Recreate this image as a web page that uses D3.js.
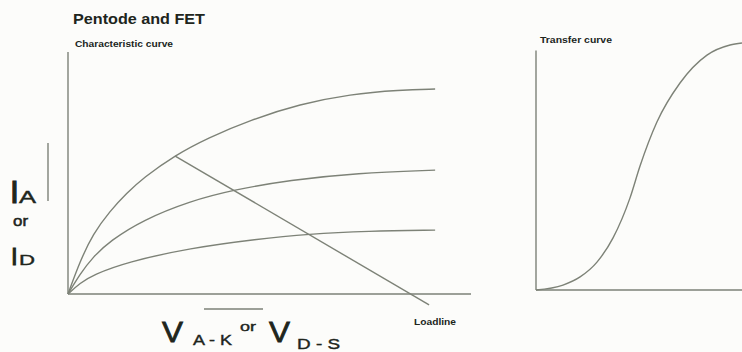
<!DOCTYPE html>
<html>
<head>
<meta charset="utf-8">
<script src="https://cdn.jsdelivr.net/npm/d3@7"></script>
<style>
  body { margin: 0; background: #fcfcfa; }
  svg { display: block; font-family: "Liberation Sans", Arial, sans-serif; }
</style>
</head>
<body>
<svg id="canvas"></svg>
<script>
"use strict";

// characteristic curves (anode / drain voltage vs current), 0..100 units
const topX = [0, 3.0, 6.2, 10.4, 14.6, 18.6, 26.6, 34.7, 45.2, 57.6, 70.0, 82.4, 91.1];
const topY = [0, 13.6, 24.8, 34.3, 41.7, 47.9, 57.4, 64.5, 71.9, 78.5, 82.6, 84.3, 84.7];
const midX = [0, 3.0, 6.2, 10.4, 18.6, 30.3, 40.9, 55.1, 71.7, 91.1];
const midY = [0, 8.3, 15.3, 21.9, 30.6, 38.4, 43.0, 47.1, 50.0, 51.2];
const lowX = [0, 3.0, 6.2, 14.6, 30.3, 46.9, 59.6, 74.4, 91.1];
const lowY = [0, 4.5, 7.9, 13.2, 19.0, 22.7, 24.8, 26.0, 26.4];
const loadX = [26.6, 89.6];
const loadY = [57.0, -4.5];

// transfer curve
const trX = [0, 13.1, 21.4, 29.6, 37.4, 45.6, 50.5, 58.7, 69.9, 83.0, 94.2, 100];
const trY = [0, 2.0, 5.3, 11.3, 21.1, 37.2, 50.2, 68.0, 83.8, 95.1, 99.2, 100];

const width = 742;
const height = 352;
const lineColor = "#7d8277";
const textColor = "#20251c";

const canvas = d3.select("#canvas").attr("width", width).attr("height", height);

const xScale = d3.scaleLinear().domain([0, 100]).range([68, 471]);
const yScale = d3.scaleLinear().domain([0, 100]).range([294, 52]);
const xTr = d3.scaleLinear().domain([0, 100]).range([536, 742]);
const yTr = d3.scaleLinear().domain([0, 100]).range([290, 43]);

const zip = (xs, ys) => xs.map((x, i) => [x, ys[i]]);

const drawLine = (pts, xs, ys, curve) => {
  const line = d3.line().x((d) => xs(d[0])).y((d) => ys(d[1])).curve(curve);
  canvas.append("path")
    .attr("d", line(pts))
    .attr("fill", "none")
    .attr("stroke", lineColor)
    .attr("stroke-width", 1.4);
};

// axes as plain lines (no ticks in the original)
drawLine([[0, 0], [0, 100]], xScale, yScale, d3.curveLinear);
drawLine([[0, 0], [100, 0]], xScale, yScale, d3.curveLinear);
drawLine([[0, 0], [0, 97]], xTr, yTr, d3.curveLinear);
drawLine([[0, 0], [100, 0]], xTr, yTr, d3.curveLinear);

drawLine(zip(topX, topY), xScale, yScale, d3.curveBasis);
drawLine(zip(midX, midY), xScale, yScale, d3.curveBasis);
drawLine(zip(lowX, lowY), xScale, yScale, d3.curveBasis);
drawLine(zip(loadX, loadY), xScale, yScale, d3.curveLinear);
drawLine(zip(trX, trY), xTr, yTr, d3.curveMonotoneX);

const addText = (txt, x, y, size, weight, len) => {
  const t = canvas.append("text")
    .attr("x", x).attr("y", y)
    .attr("font-size", size)
    .attr("font-weight", weight)
    .attr("fill", textColor)
    .text(txt);
  if (len) t.attr("textLength", len).attr("lengthAdjust", "spacingAndGlyphs");
  return t;
};

addText("Pentode and FET", 73, 24, 14, "bold", 132);
addText("Characteristic curve", 75, 47, 9, "bold", 98);
addText("Transfer curve", 540, 43, 9, "bold", 72);
addText("Loadline", 414, 325, 8.5, "bold", 42);

// y-axis label
addText("I", 10, 203, 32, "normal").attr("stroke", textColor).attr("stroke-width", 1.2);
addText("A", 19, 203, 16, "normal", 17).attr("stroke", textColor).attr("stroke-width", 0.4);
addText("or", 13, 226, 14, "normal", 15).attr("stroke", textColor).attr("stroke-width", 0.5);
addText("I", 11, 265, 24, "normal").attr("stroke", textColor).attr("stroke-width", 1);
addText("D", 19, 265, 15, "normal", 16).attr("stroke", textColor).attr("stroke-width", 0.4);
canvas.append("line")
  .attr("x1", 48).attr("x2", 48).attr("y1", 143).attr("y2", 201)
  .attr("stroke", lineColor).attr("stroke-width", 1.4);

// x-axis label
addText("V", 162, 342, 30, "normal", 21).attr("stroke", textColor).attr("stroke-width", 0.8);
addText("A - K", 193, 345, 15, "normal", 39).attr("stroke", textColor).attr("stroke-width", 0.4);
addText("or", 240, 331, 13, "normal", 16).attr("stroke", textColor).attr("stroke-width", 0.4);
addText("V", 269, 342, 30, "normal", 21).attr("stroke", textColor).attr("stroke-width", 0.8);
addText("D - S", 297, 349, 15, "normal", 43).attr("stroke", textColor).attr("stroke-width", 0.4);
canvas.append("line")
  .attr("x1", 204).attr("x2", 263).attr("y1", 309).attr("y2", 309)
  .attr("stroke", lineColor).attr("stroke-width", 1.4);
</script>
</body>
</html>
